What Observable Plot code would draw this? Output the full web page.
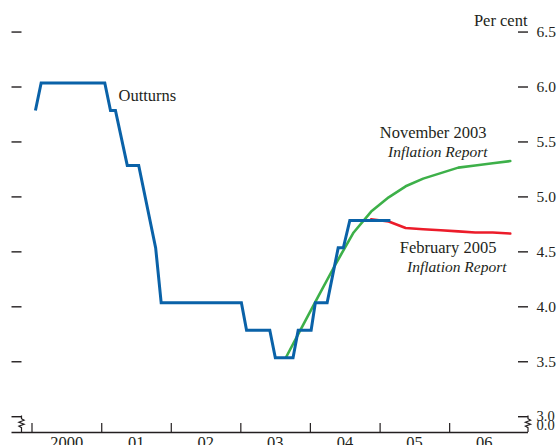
<!DOCTYPE html>
<html>
<head>
<meta charset="utf-8">
<script src="https://cdn.jsdelivr.net/npm/d3@7"></script>
<script src="https://cdn.jsdelivr.net/npm/@observablehq/plot@0.6"></script>
<style>
  html, body { margin: 0; padding: 0; background: #fff; }
  #chart svg { display: block; }
</style>
</head>
<body>
<div id="chart"></div>
<script>
// ---- Data ----
// Outturns: Bank Rate, per cent
const outturnDates = ["2000-01-19","2000-02-18","2001-01-17","2001-02-16","2001-03-14","2001-05-15","2001-07-14","2001-10-11","2001-11-09","2003-01-04","2003-01-31","2003-06-02","2003-07-01","2003-10-02","2003-10-29","2004-01-05","2004-01-27","2004-03-29","2004-05-26","2004-06-22","2004-07-26","2005-02-24"];
const outturnRates = [5.75, 6.0, 6.0, 5.75, 5.75, 5.25, 5.25, 4.5, 4.0, 4.0, 3.75, 3.75, 3.5, 3.5, 3.75, 3.75, 4.0, 4.0, 4.5, 4.5, 4.75, 4.75];

// November 2003 Inflation Report market path (quarterly)
const nov03Dates = ["2003-08-25","2003-11-15","2004-02-15","2004-05-15","2004-08-15","2004-11-15","2005-02-15","2005-05-15","2005-08-15","2005-11-15","2006-02-15","2006-05-15","2006-08-15","2006-11-15"];
const nov03Rates = [3.5, 3.77, 4.07, 4.36, 4.64, 4.83, 4.96, 5.06, 5.13, 5.18, 5.23, 5.25, 5.27, 5.29];

// February 2005 Inflation Report market path (quarterly)
const feb05Dates = ["2004-11-15","2005-02-15","2005-05-15","2005-08-15","2005-11-15","2006-02-15","2006-05-15","2006-08-15","2006-11-15"];
const feb05Rates = [4.76, 4.74, 4.68, 4.67, 4.66, 4.65, 4.64, 4.64, 4.63];

// Axis ticks and labels
const yTickValues = [6.5, 6.0, 5.5, 5.0, 4.5, 4.0, 3.5, 3.0];
const yearTickDates = ["2000-01-01","2001-01-01","2002-01-01","2003-01-01","2004-01-01","2005-01-01","2006-01-01"];
const yearLabelDates = ["2000-07-01","2001-07-01","2002-07-01","2003-07-01","2004-07-01","2005-07-01","2006-07-01"];
const yearLabels = ["2000","01","02","03","04","05","06"];

// ---- Build tables ----
const parse = s => new Date(s);
const outturns = outturnDates.map((d, i) => ({date: parse(d), rate: outturnRates[i]}));
const nov03 = nov03Dates.map((d, i) => ({date: parse(d), rate: nov03Rates[i]}));
const feb05 = feb05Dates.map((d, i) => ({date: parse(d), rate: feb05Rates[i]}));
const yearTicks = yearTickDates.map(parse);
const yearLabelRows = yearLabelDates.map((d, i) => ({date: parse(d), label: yearLabels[i]}));

// ---- Style ----
const ink = "#231f20";
const serif = "'Liberation Serif', 'Times New Roman', serif";
const fs = 16.5;
const tfs = 15.5;
const tickShift = 4;       // tick glyphs sit slightly below their values in the original
const yFloor = 2.82;       // broken axis: the baseline stands for 0.0

function axisBreak(side) {
  return (index, scales, values, dims) => {
    const yTop = scales.y(3.0) + tickShift;
    const yBase = dims.height - dims.marginBottom;
    const x = side === "left" ? dims.marginLeft + 10 : dims.width - dims.marginRight;
    const p = d3.path();
    p.moveTo(x, yTop - 0.6);
    p.lineTo(x, yTop + 2.5);
    p.lineTo(x + 2.6, yTop + 4);
    p.lineTo(x - 2.6, yTop + 6);
    p.lineTo(x + 2.6, yTop + 8);
    p.lineTo(x - 2.6, yTop + 10);
    p.lineTo(x, yTop + 11.5);
    p.lineTo(x, yBase);
    return d3.create("svg:path")
      .attr("d", p.toString())
      .attr("fill", "none")
      .attr("stroke", ink)
      .attr("stroke-width", 1.2)
      .node();
  };
}

const W = 558, H = 445;
const mLeft = 11.5, mRight = 30, mTop = 27.55, mBottom = 13;

const chart = Plot.plot({
  width: W,
  height: H,
  marginLeft: mLeft,
  marginRight: mRight,
  marginTop: mTop,
  marginBottom: mBottom,
  style: {fontFamily: serif, fontSize: fs + "px", color: ink, background: "#fff"},
  x: {type: "utc", domain: [new Date("2000-01-01"), new Date("2007-01-01")], range: [31.5, 518.7], axis: null},
  y: {domain: [yFloor, 6.5], range: [H - mBottom, mTop], axis: null},
  marks: [
    // baseline
    Plot.ruleY([yFloor], {stroke: ink, strokeWidth: 1.3}),
    // year ticks
    Plot.ruleX(yearTicks, {stroke: ink, strokeWidth: 1.2, insetTop: (H - mBottom - mTop) - 9}),
    // year labels
    Plot.text(yearLabelRows, {x: "date", y: () => yFloor, text: "label", lineAnchor: "top", dy: 4, fill: ink, fontSize: fs}),
    // left and right tick dashes
    Plot.ruleY(yTickValues, {stroke: ink, strokeWidth: 1.4, dy: tickShift, insetRight: (W - mLeft - mRight) - 10}),
    Plot.ruleY(yTickValues, {stroke: ink, strokeWidth: 1.4, dy: tickShift, insetLeft: (W - mLeft - mRight) - 10}),
    axisBreak("left"),
    axisBreak("right"),
    // right tick labels
    Plot.text(yTickValues.filter(v => v > 3), {y: d => d, text: d => d.toFixed(1), frameAnchor: "right", textAnchor: "start", dx: 8, dy: tickShift, fill: ink, fontSize: tfs}),
    Plot.text([3.0], {y: d => d, text: d => d.toFixed(1), frameAnchor: "right", textAnchor: "start", dx: 8, dy: tickShift - 0.5, fill: ink, fontSize: 14.5}),
    Plot.text(["0.0"], {frameAnchor: "bottom-right", textAnchor: "start", dx: 8, dy: -3, fill: ink, fontSize: 14.5}),
    Plot.text(["Per cent"], {frameAnchor: "top-right", textAnchor: "end", lineAnchor: "bottom", dx: -1, dy: -2.5, fill: ink, fontSize: fs}),
    // series
    Plot.line(nov03, {x: "date", y: "rate", stroke: "#3db049", strokeWidth: 2.6}),
    Plot.line(feb05, {x: "date", y: "rate", stroke: "#ec1c2a", strokeWidth: 2.6}),
    Plot.line(outturns, {x: "date", y: "rate", stroke: "#0a62a8", strokeWidth: 3, strokeLinejoin: "miter", strokeMiterlimit: 10, strokeLinecap: "butt"}),
    // annotations
    Plot.text(["Outturns"], {frameAnchor: "top-left", textAnchor: "start", lineAnchor: "bottom", dx: 118 - mLeft, dy: 100 - mTop, fill: ink, fontSize: fs}),
    Plot.text(["November 2003"], {frameAnchor: "top-left", textAnchor: "end", lineAnchor: "bottom", dx: 486 - mLeft, dy: 137 - mTop, fill: ink, fontSize: fs}),
    Plot.text(["Inflation Report"], {frameAnchor: "top-left", textAnchor: "end", lineAnchor: "bottom", dx: 487 - mLeft, dy: 156 - mTop, fill: ink, fontSize: 15.5, fontStyle: "italic"}),
    Plot.text(["February 2005"], {frameAnchor: "top-left", textAnchor: "end", lineAnchor: "bottom", dx: 496 - mLeft, dy: 252 - mTop, fill: ink, fontSize: fs}),
    Plot.text(["Inflation Report"], {frameAnchor: "top-left", textAnchor: "end", lineAnchor: "bottom", dx: 506 - mLeft, dy: 271 - mTop, fill: ink, fontSize: 15.5, fontStyle: "italic"})
  ]
});

document.getElementById("chart").appendChild(chart);
</script>
</body>
</html>
